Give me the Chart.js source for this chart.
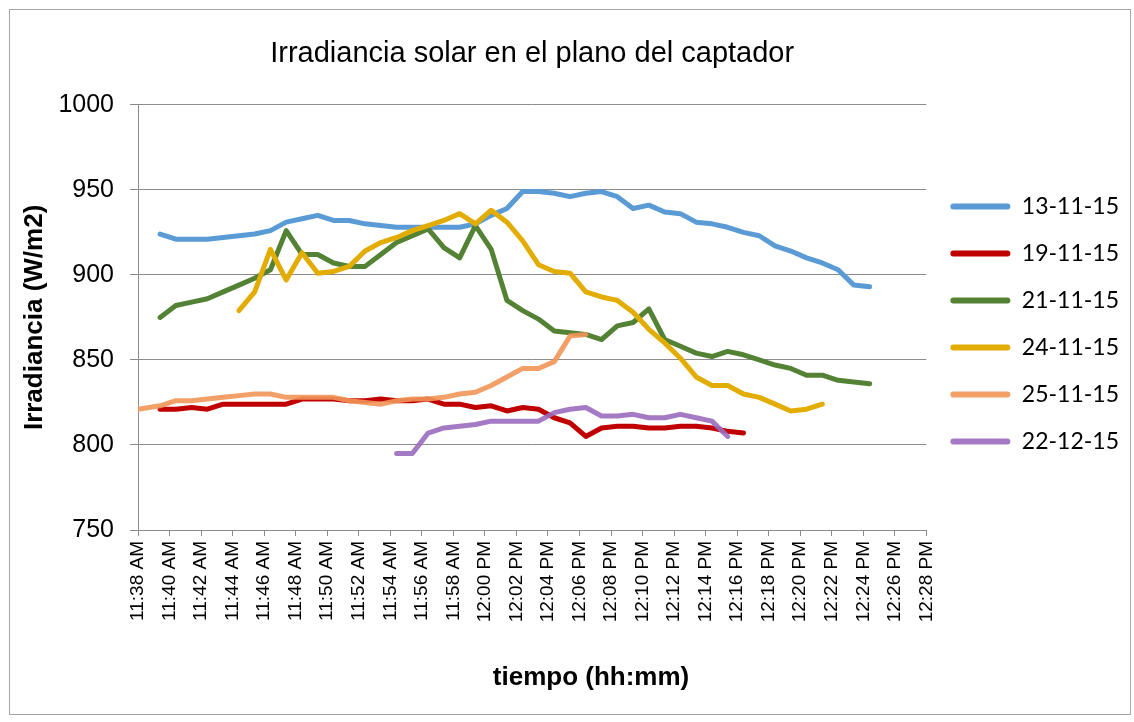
<!DOCTYPE html>
<html>
<head>
<meta charset="utf-8">
<title>Irradiancia solar en el plano del captador</title>
<script src="https://cdn.jsdelivr.net/npm/chart.js@4.4.1/dist/chart.umd.min.js"></script>
<style>
  html, body { margin: 0; padding: 0; background: #fff; }
  canvas { display: block; }
</style>
</head>
<body>
<canvas id="irradiancia" width="1134" height="722"></canvas>
<script>
// time of each reading (hh:mm:ss)
const times = [
  "11:38:00", "11:39:24", "11:40:24", "11:41:24", "11:42:24", "11:43:24",
  "11:44:24", "11:45:24", "11:46:24", "11:47:24", "11:48:24", "11:49:24",
  "11:50:24", "11:51:24", "11:52:24", "11:53:24", "11:54:24", "11:55:24",
  "11:56:24", "11:57:24", "11:58:24", "11:59:24", "12:00:24", "12:01:24",
  "12:02:24", "12:03:24", "12:04:24", "12:05:24", "12:06:24", "12:07:24",
  "12:08:24", "12:09:24", "12:10:24", "12:11:24", "12:12:24", "12:13:24",
  "12:14:24", "12:15:24", "12:16:24", "12:17:24", "12:18:24", "12:19:24",
  "12:20:24", "12:21:24", "12:22:24", "12:23:24", "12:24:24"
];

// irradiance (W/m2) per day, null where there was no reading
const dia_13_11_15 = [
  null, 924, 921, 921, 921, 922, 923, 924, 926, 931, 933, 935, 932, 932, 930, 929,
  928, 928, 928, 928, 928, 930, 935, 939, 949, 949, 948, 946, 948, 949, 946, 939,
  941, 937, 936, 931, 930, 928, 925, 923, 917, 914, 910, 907, 903, 894, 893
];
const dia_19_11_15 = [
  null, 821, 821, 822, 821, 824, 824, 824, 824, 824, 827, 827, 827, 826, 826, 827,
  826, 826, 827, 824, 824, 822, 823, 820, 822, 821, 816, 813, 805, 810, 811, 811,
  810, 810, 811, 811, 810, 808, 807, null, null, null, null, null, null, null, null
];
const dia_21_11_15 = [
  null, 875, 882, 884, 886, 890, 894, 898, 903, 926, 912, 912, 907, 905, 905, 912,
  919, 923, 927, 916, 910, 929, 915, 885, 879, 874, 867, 866, 865, 862, 870, 872,
  880, 862, 858, 854, 852, 855, 853, 850, 847, 845, 841, 841, 838, 837, 836
];
const dia_24_11_15 = [
  null, null, null, null, null, null, 879, 890, 915, 897, 913, 901, 902, 905, 914, 919,
  922, 926, 929, 932, 936, 930, 938, 931, 920, 906, 902, 901, 890, 887, 885, 878,
  868, 860, 851, 840, 835, 835, 830, 828, 824, 820, 821, 824, null, null, null
];
const dia_25_11_15 = [
  821, 823, 826, 826, 827, 828, 829, 830, 830, 828, 828, 828, 828, 826, 825, 824,
  826, 827, 827, 828, 830, 831, 835, 840, 845, 845, 849, 864, 865, null, null, null,
  null, null, null, null, null, null, null, null, null, null, null, null, null, null, null
];
const dia_22_12_15 = [
  null, null, null, null, null, null, null, null, null, null, null, null, null, null, null, null,
  795, 795, 807, 810, 811, 812, 814, 814, 814, 814, 819, 821, 822, 817, 817, 818,
  816, 816, 818, 816, 814, 805, null, null, null, null, null, null, null, null, null
];

const seriesLabels = ["13-11-15", "19-11-15", "21-11-15", "24-11-15", "25-11-15", "22-12-15"];
const seriesValues = [dia_13_11_15, dia_19_11_15, dia_21_11_15, dia_24_11_15, dia_25_11_15, dia_22_12_15];

// axis range and ticks
const xStart = "11:38:00";
const xEnd = "12:28:00";
const xStepMinutes = 2;
const yMin = 750;
const yMax = 1000;
const yStep = 50;

// styles
const seriesColors = ["#5B9BD5", "#C00000", "#548235", "#E2AC00", "rgba(241,149,88,0.9)", "rgba(155,108,190,0.9)"];
const gridColor = "#8C8C8C";
const arial = "'Liberation Sans', Arial, sans-serif";
const plotRight = 926; // right edge of the plot area in the original

function toMinutes(t) {
  const [h, m, s] = t.split(":").map(Number);
  return h * 60 + m + (s || 0) / 60;
}

function formatTime(value) {
  const h = Math.floor(value / 60);
  const m = Math.round(value - h * 60);
  const suffix = h < 12 ? "AM" : "PM";
  const h12 = h % 12 === 0 ? 12 : h % 12;
  return h12 + ":" + String(m).padStart(2, "0") + " " + suffix;
}

Chart.defaults.font.family = arial;
Chart.defaults.color = "#000";

// white background, outer frame and the x axis title (sits right of centre in the original)
const chartFrame = {
  id: "chartFrame",
  beforeDraw(chart) {
    const ctx = chart.ctx;
    ctx.save();
    ctx.fillStyle = "#fff";
    ctx.fillRect(0, 0, chart.width, chart.height);
    ctx.strokeStyle = "#A6A6A6";
    ctx.lineWidth = 1;
    ctx.strokeRect(9.5, 9.5, 1121, 705);
    ctx.restore();
  },
  afterDraw(chart) {
    const ctx = chart.ctx;
    ctx.save();
    ctx.font = "bold 26px " + arial;
    ctx.fillStyle = "#000";
    ctx.textAlign = "center";
    ctx.textBaseline = "middle";
    ctx.fillText("tiempo (hh:mm)", 591, 678);
    ctx.restore();
  }
};

const datasets = seriesLabels.map((label, i) => ({
  label: label,
  data: times.map((t, j) => ({ x: toMinutes(t), y: seriesValues[i][j] })),
  borderColor: seriesColors[i],
  backgroundColor: seriesColors[i],
  borderWidth: 5,
  borderCapStyle: "round",
  borderJoinStyle: "round",
  pointRadius: 0,
  tension: 0,
  fill: false,
  spanGaps: false,
  order: seriesLabels.length - i // later series drawn on top, like Excel
}));

const chart = new Chart(document.getElementById("irradiancia"), {
  type: "line",
  data: { datasets: datasets },
  plugins: [chartFrame],
  options: {
    responsive: false,
    animation: false,
    devicePixelRatio: 1,
    layout: { padding: { left: 0, right: 16, top: 0, bottom: 0 } },
    plugins: {
      title: {
        display: true,
        text: "Irradiancia solar en el plano del captador",
        fullSize: false,
        color: "#000",
        font: { size: 29, weight: "normal" },
        padding: { top: 37, bottom: 33 }
      },
      legend: {
        position: "right",
        fullSize: false,
        title: { display: true, text: "", font: { size: 1 }, padding: 6 },
        labels: {
          boxWidth: 60,
          boxHeight: 6,
          padding: 24,
          color: "#000",
          useBorderRadius: true,
          borderRadius: 3,
          font: { family: "Lato, " + arial, size: 23 },
          sort: (a, b) => a.datasetIndex - b.datasetIndex,
          generateLabels(chart) {
            return Chart.defaults.plugins.legend.labels.generateLabels(chart).map((item) => {
              item.fillStyle = seriesColors[item.datasetIndex];
              item.strokeStyle = seriesColors[item.datasetIndex];
              item.lineWidth = 0;
              return item;
            });
          }
        }
      },
      tooltip: { enabled: false }
    },
    scales: {
      x: {
        type: "linear",
        min: toMinutes(xStart),
        max: toMinutes(xEnd),
        afterFit: (scale) => { scale.height = 192; },
        grid: { drawOnChartArea: false, drawTicks: true, tickLength: 6, color: gridColor },
        border: { color: gridColor },
        ticks: {
          stepSize: xStepMinutes,
          autoSkip: false,
          maxRotation: 90,
          minRotation: 90,
          padding: 5,
          color: "#000",
          font: { size: 19 },
          callback: (value) => formatTime(value)
        }
      },
      y: {
        min: yMin,
        max: yMax,
        afterFit: (scale) => { scale.width = 138; },
        grid: { color: gridColor, tickLength: 8 },
        border: { color: gridColor },
        ticks: {
          stepSize: yStep,
          padding: 16,
          color: "#000",
          font: { size: 25 },
          callback: (value) => String(value)
        },
        title: {
          display: true,
          text: "Irradiancia (W/m2)",
          color: "#000",
          font: { size: 26, weight: "bold" },
          padding: { top: 19, bottom: 0 }
        }
      }
    }
  }
});

// the legend width depends on the measured text, so nudge the right padding
// until the plot area ends where it does in the original
const gap = Math.round(chart.chartArea.right - plotRight);
if (gap !== 0) {
  chart.options.layout.padding.right = Math.max(0, chart.options.layout.padding.right + gap);
  chart.update();
}
</script>
</body>
</html>
